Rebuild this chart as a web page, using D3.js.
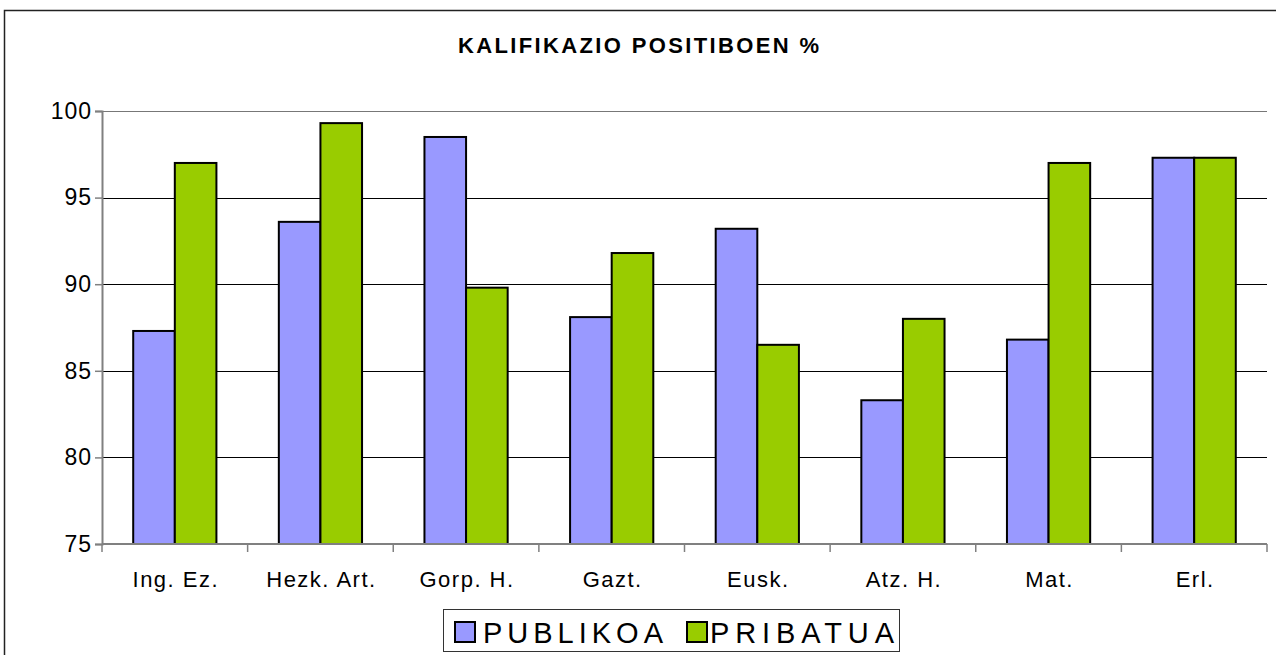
<!DOCTYPE html>
<html>
  <head>
    <meta charset="utf-8">
    <title>Kalifikazio positiboen %</title>
    <script src="https://d3js.org/d3.v7.min.js"></script>
    <style>
      body { margin: 0; background: #fff; }
      svg { display: block; font-family: "Liberation Sans", Arial, sans-serif; }
    </style>
  </head>
  <body>
    <script>
      // chart data
      var titleText = "KALIFIKAZIO POSITIBOEN %";
      var categories = ["Ing. Ez.", "Hezk. Art.", "Gorp. H.", "Gazt.", "Eusk.", "Atz. H.", "Mat.", "Erl."];
      var seriesNames = ["PUBLIKOA", "PRIBATUA"];
      var publikoa = [87.3, 93.6, 98.5, 88.1, 93.2, 83.3, 86.8, 97.3];
      var pribatua = [97.0, 99.3, 89.8, 91.8, 86.5, 88.0, 97.0, 97.3];
      var yTicks = [75, 80, 85, 90, 95, 100];

      var width = 1276, height = 655,
        colors = ["#9999ff", "#99cc00"];

      var svg = d3.select("body").append("svg")
        .attr("width", width)
        .attr("height", height);

      // outer chart frame
      svg.append("rect")
        .attr("x", 4.5).attr("y", 10.5)
        .attr("width", 1300).attr("height", 700)
        .attr("fill", "none")
        .attr("stroke", "#222")
        .attr("stroke-width", 1.5);

      // title
      svg.append("text")
        .attr("x", 458).attr("y", 53)
        .attr("font-size", 22)
        .attr("font-weight", "bold")
        .attr("textLength", 361)
        .attr("lengthAdjust", "spacing")
        .text(titleText);

      // scales
      var x = d3.scaleBand()
        .domain(categories)
        .range([102, 1267]);

      var y = d3.scaleLinear()
        .domain([75, 100])
        .range([544, 111]);

      var barW = x.bandwidth() / 3.5,
        gap = barW * 0.75;

      // gridlines
      svg.append("g")
        .selectAll("line")
        .data(yTicks.filter(function(d) { return d > 75; }))
        .enter().append("line")
          .attr("x1", 102).attr("x2", 1267)
          .attr("y1", function(d) { return Math.round(y(d)) + 0.5; })
          .attr("y2", function(d) { return Math.round(y(d)) + 0.5; })
          .attr("stroke", function(d) { return d === 100 ? "#777" : "#000"; })
          .attr("stroke-width", 1);

      // y axis
      var yAxis = svg.append("g")
        .attr("transform", "translate(102,0)")
        .call(d3.axisLeft(y).tickValues(yTicks).tickSize(7).tickPadding(3));
      yAxis.select(".domain").attr("stroke", "#808080").attr("stroke-width", 2);
      yAxis.selectAll(".tick line").attr("stroke", "#808080").attr("stroke-width", 1.5);
      yAxis.selectAll(".tick text")
        .attr("font-size", 23)
        .attr("font-family", "Liberation Sans, Arial, sans-serif")
        .attr("letter-spacing", 1)
        .attr("fill", "#000");

      // bars
      var groups = svg.append("g")
        .selectAll("g")
        .data(categories)
        .enter().append("g")
          .attr("transform", function(d) { return "translate(" + (x(d) + gap) + ",0)"; });

      [publikoa, pribatua].forEach(function(series, s) {
        groups.append("rect")
          .attr("x", s * barW)
          .attr("y", function(d, i) { return y(series[i]); })
          .attr("width", barW)
          .attr("height", function(d, i) { return y(75) - y(series[i]); })
          .attr("fill", colors[s])
          .attr("stroke", "#000")
          .attr("stroke-width", 2);
      });

      // x axis
      var xAxis = svg.append("g")
        .attr("transform", "translate(0,544)");
      xAxis.append("line")
        .attr("x1", 102).attr("x2", 1267)
        .attr("stroke", "#808080").attr("stroke-width", 2);
      xAxis.selectAll(".tk")
        .data(categories.concat([null]))
        .enter().append("line")
          .attr("class", "tk")
          .attr("x1", function(d, i) { return 102 + i * x.bandwidth(); })
          .attr("x2", function(d, i) { return 102 + i * x.bandwidth(); })
          .attr("y1", 0).attr("y2", 8)
          .attr("stroke", "#808080").attr("stroke-width", 1.5);
      xAxis.selectAll("text")
        .data(categories)
        .enter().append("text")
          .attr("x", function(d) { return x(d) + x.bandwidth() / 2 + 1; })
          .attr("y", 43)
          .attr("text-anchor", "middle")
          .attr("font-size", 22)
          .attr("letter-spacing", 1.5)
          .text(function(d) { return d; });

      // legend
      var legend = svg.append("g");
      legend.append("rect")
        .attr("x", 443.5).attr("y", 609.5)
        .attr("width", 456).attr("height", 42)
        .attr("fill", "#fff")
        .attr("stroke", "#333");
      var legendX = [455, 687], textX = [483, 710], textW = [180, 184];
      seriesNames.forEach(function(name, s) {
        legend.append("rect")
          .attr("x", legendX[s]).attr("y", 622)
          .attr("width", 20).attr("height", 20)
          .attr("fill", colors[s])
          .attr("stroke", "#000")
          .attr("stroke-width", 2);
        legend.append("text")
          .attr("x", textX[s]).attr("y", 643)
          .attr("font-size", 29)
          .attr("textLength", textW[s])
          .attr("lengthAdjust", "spacing")
          .text(name);
      });
    </script>
  </body>
</html>
